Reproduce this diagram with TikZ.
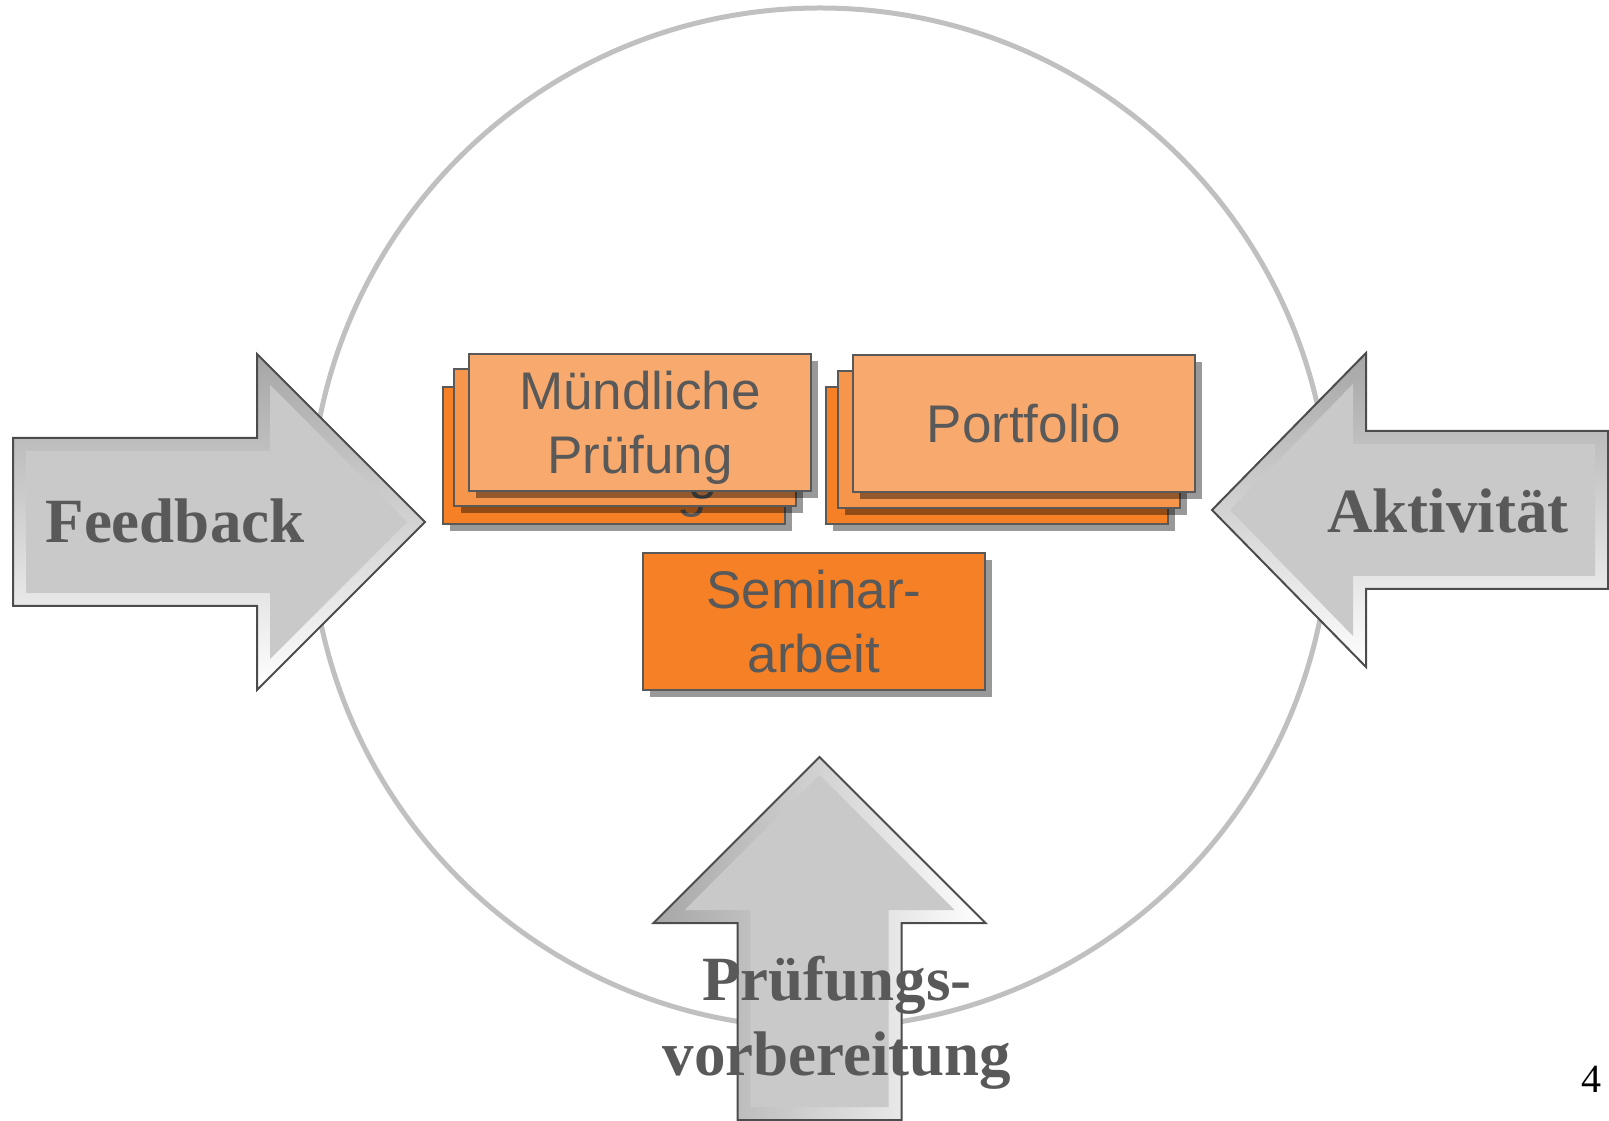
\documentclass[tikz,border=0pt]{standalone}
\usepackage{fontspec}
\setmainfont{Liberation Serif}
\newfontfamily\cardfont{Liberation Sans}
\usetikzlibrary{shadows}
\definecolor{txtgray}{HTML}{595959}
\definecolor{ringgray}{HTML}{C0C0C0}
\definecolor{cardfront}{HTML}{F8AA6E}
\definecolor{cardmid}{HTML}{F6954C}
\definecolor{cardback}{HTML}{F58026}
\tikzstyle{card}=[draw=txtgray, line width=2pt, minimum width=342pt, minimum height=137pt, inner sep=0pt, text depth=0pt, anchor=north west, align=center, text=txtgray, font=\cardfont\fontsize{53}{64}\selectfont, drop shadow={shadow xshift=7pt, shadow yshift=-7pt, fill=black, opacity=0.4}]
\tikzstyle{arrowtext}=[text=txtgray, align=center, font=\fontsize{63}{75}\selectfont\bfseries]
\tikzstyle{bevel}=[draw=black!70, line width=2pt]

\begin{document}
\begin{tikzpicture}[x=1pt, y=1pt]
	\useasboundingbox (0,0) rectangle (1609,1120);
	% First we draw the ring
	\node[draw=ringgray, line width=5pt, circle, minimum size=1020pt, inner sep=0pt] (ring) at (820,602) {};

	% Stacked cards
	\foreach \pos/\name/\col in {{(442,734)/m3/cardback}, {(453,752)/m2/cardmid}, {(468,767)/m1/cardfront}}
	\node[card, fill=\col] (\name) at \pos {Mündliche\\Prüfung};
	\foreach \pos/\name/\col in {{(825,734)/p3/cardback}, {(837,750)/p2/cardmid}}
	\node[card, fill=\col] (\name) at \pos {};
	\node[card, fill=cardfront] (p1) at (852,766) {Portfolio};
	\node[card, fill=cardback] (sem) at (642,568) {Seminar-\\arbeit};

	% Then the bevelled arrows
	\foreach \tx/\ty/\rot/\len/\hl/\hh/\sh/\ang/\name in {425/598/0/412/168/168/84/0/fb, 1212/610/180/396/154/157/79/0/ak, 819.5/363/90/363/166/166/82/90/pv}
	{
		\coordinate (\name) at (\tx,\ty);
		\path[bevel, shift={(\tx,\ty)}, rotate=\rot, top color=black!35, bottom color=white, shading angle=\ang] (0,0) -- (-\hl,\hh) -- (-\hl,\sh) -- (-\len,\sh) -- (-\len,-\sh) -- (-\hl,-\sh) -- (-\hl,-\hh) -- cycle;
		\fill[black!21, shift={(\tx,\ty)}, rotate=\rot] (-18,0) -- ({-\hl+13},{\hh-31}) -- ({-\hl+13},{\sh-13}) -- ({-\len+13},{\sh-13}) -- ({-\len+13},{-\sh+13}) -- ({-\hl+13},{-\sh+13}) -- ({-\hl+13},{-\hh+31}) -- cycle;
	}

	% Labels on the arrows
	\node[arrowtext, anchor=base] (feedback) at (175,577) {Feedback};
	\node[arrowtext, anchor=base] (aktiv) at (1448,587) {Aktivität};
	\node[arrowtext] (pruef) at (837,97) {Prüfungs-\\vorbereitung};
	\node[font=\fontsize{40}{48}\selectfont, anchor=base] (page) at (1591,28) {4};
\end{tikzpicture}
\end{document}
